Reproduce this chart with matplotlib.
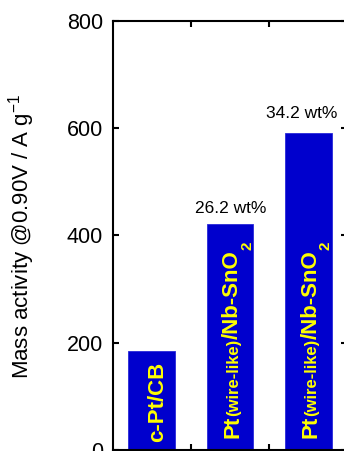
import matplotlib
matplotlib.use("Agg")
import matplotlib.pyplot as plt
from matplotlib.transforms import IdentityTransform

plt.rcParams["font.family"] = ["Liberation Sans", "DejaVu Sans"]
plt.rcParams["mathtext.fontset"] = "custom"
plt.rcParams["mathtext.rm"] = "Liberation Sans"
plt.rcParams["mathtext.default"] = "regular"

# Mass activity of each catalyst (A g^-1)
catalysts = ["c-Pt/CB", "Pt(wire-like)/Nb-SnO2 26.2", "Pt(wire-like)/Nb-SnO2 34.2"]
mass_activity = [185, 421, 591]
loading_labels = [None, "26.2 wt%", "34.2 wt%"]
yticks = [0, 200, 400, 600, 800]

# rotated in-bar label pieces: (text, fontsize, subscript drop in px)
bar_texts = [
    [("c-Pt/CB", 16, 0)],
    [("Pt", 16, 0), ("(wire-like)", 12, 0), ("/Nb-SnO", 16, 0), ("2", 11, 13)],
    [("Pt", 16, 0), ("(wire-like)", 12, 0), ("/Nb-SnO", 16, 0), ("2", 11, 13)],
]

W, H = 344, 451
fig = plt.figure(figsize=(W / 100, H / 100), dpi=100)
ax = fig.add_axes([112.5 / W, 1.0 / H, 235.0 / W, 429.3 / H])

xs = list(range(len(catalysts)))
ax.bar(xs, mass_activity, width=0.6, color="#0000CD", edgecolor="#2828D8", linewidth=0.6)

ax.set_xlim(-0.5, 2.5)
ax.set_ylim(0, 800)
ax.set_yticks(yticks)
ax.set_xticks([0.5, 1.5])
ax.set_xticklabels([])

for sp in ax.spines.values():
    sp.set_linewidth(1.5)
ax.tick_params(axis="both", direction="in", length=4.5, width=1.5,
               top=True, right=True, labelsize=15.5, pad=7)
ax.tick_params(axis="x", labelbottom=False)

fig.text(22 / W, 0.475, r"Mass activity @0.90V / A g$^{-1}$", rotation=90,
         ha="center", va="center", fontsize=16)

# loading annotations above the wire-like bars
label_dx = [0, 0.01, -0.09]
label_dy = [0, 21, 28]
for i, lab in enumerate(loading_labels):
    if lab:
        ax.text(xs[i] + label_dx[i], mass_activity[i] + label_dy[i], lab,
                ha="center", va="baseline", fontsize=12.5)

# yellow rotated labels inside the bars, built piece by piece along the bar
fig.canvas.draw()
renderer = fig.canvas.get_renderer()
base_dx = [11.5, 8.0, 8.0]
base_dy = [7.5, 11.5, 11.5]
for i, pieces in enumerate(bar_texts):
    X, Y = ax.transData.transform((xs[i], 0))
    X += base_dx[i]
    Y += base_dy[i]
    for s, size, drop in pieces:
        t = ax.text(X + drop, Y, s, transform=IdentityTransform(), rotation=90,
                    rotation_mode="anchor", ha="left", va="baseline",
                    fontsize=size, fontweight="bold", color="#FFFF00")
        bb = t.get_window_extent(renderer)
        Y = bb.y1

fig.savefig("out.png", dpi=100)
